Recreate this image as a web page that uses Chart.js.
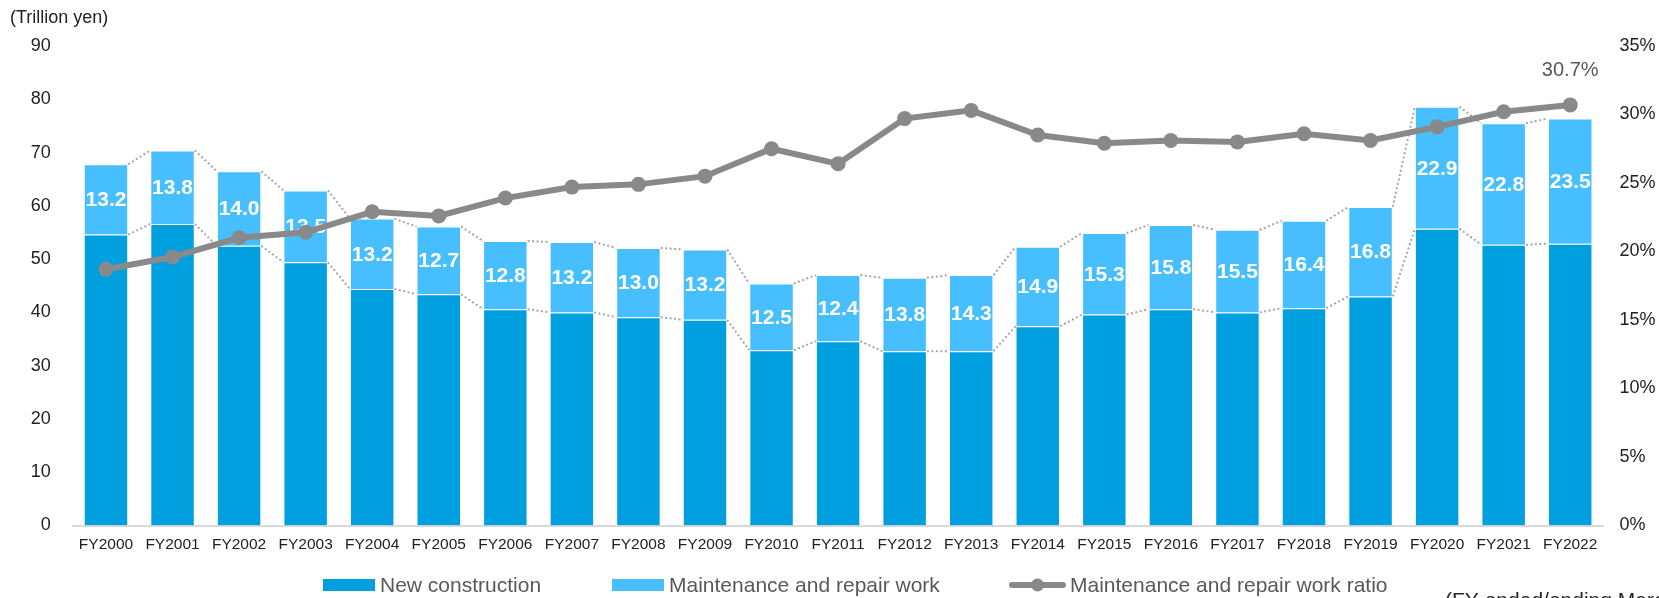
<!DOCTYPE html>
<html>
<head>
<meta charset="utf-8">
<script src="https://cdn.jsdelivr.net/npm/chart.js@4"></script>
<style>
  html, body { margin: 0; padding: 0; background: #fff; }
  #wrap { position: relative; width: 1659px; height: 598px; }
</style>
</head>
<body>
<div id="wrap"><canvas id="c"></canvas></div>
<script>
const categories = ['FY2000','FY2001','FY2002','FY2003','FY2004','FY2005','FY2006','FY2007','FY2008','FY2009','FY2010','FY2011','FY2012','FY2013','FY2014','FY2015','FY2016','FY2017','FY2018','FY2019','FY2020','FY2021','FY2022'];
const newConstruction = [54.6, 56.6, 52.5, 49.4, 44.4, 43.4, 40.6, 40.0, 39.1, 38.6, 32.9, 34.6, 32.7, 32.7, 37.4, 39.6, 40.6, 40.0, 40.8, 43.0, 55.7, 52.7, 52.9];
const maintenance = [13.2, 13.8, 14.0, 13.5, 13.2, 12.7, 12.8, 13.2, 13.0, 13.2, 12.5, 12.4, 13.8, 14.3, 14.9, 15.3, 15.8, 15.5, 16.4, 16.8, 22.9, 22.8, 23.5];
const ratio = [18.7, 19.6, 21.0, 21.4, 22.9, 22.6, 23.9, 24.7, 24.9, 25.5, 27.5, 26.4, 29.7, 30.3, 28.5, 27.9, 28.1, 28.0, 28.6, 28.1, 29.1, 30.2, 30.7];
const leftTicks = [0, 10, 20, 30, 40, 50, 60, 70, 80, 90];
const rightTicks = [0, 5, 10, 15, 20, 25, 30, 35];
const seriesNames = ['New construction', 'Maintenance and repair work', 'Maintenance and repair work ratio'];
const unitLabel = '(Trillion yen)';
const footnote = '(FY ended/ending March 31)';

const FONT = "'Liberation Sans', Arial, Helvetica, sans-serif";
const COL_NEW = '#009FE0';
const COL_MAINT = '#47BFFF';
const COL_LINE = '#898989';

const overlay = {
  id: 'overlay',
  afterDatasetDraw(chart, args) {
    if (args.index !== 1) return;
    const ctx = chart.ctx;
    ctx.save();
    ctx.strokeStyle = '#a6a6a6';
    ctx.lineWidth = 2;
    ctx.setLineDash([2, 2.5]);
    [0, 1].forEach(di => {
      const els = chart.getDatasetMeta(di).data;
      for (let i = 0; i < els.length - 1; i++) {
        const a = els[i], b = els[i + 1];
        ctx.beginPath();
        ctx.moveTo(a.x + a.width / 2, a.y);
        ctx.lineTo(b.x - b.width / 2, b.y);
        ctx.stroke();
      }
    });
    ctx.setLineDash([]);
    ctx.fillStyle = '#ffffff';
    ctx.font = 'bold 21px ' + FONT;
    ctx.textAlign = 'center';
    ctx.textBaseline = 'middle';
    chart.getDatasetMeta(1).data.forEach((el, i) => {
      const y = (el.y + el.base) / 2;
      ctx.fillText(maintenance[i].toFixed(1), el.x, y + 1);
    });
    ctx.restore();
  },
  afterDraw(chart) {
    const ctx = chart.ctx;
    ctx.save();
    // unit label
    ctx.fillStyle = '#222';
    ctx.font = '18px ' + FONT;
    ctx.textAlign = 'left';
    ctx.textBaseline = 'middle';
    ctx.fillText(unitLabel, 10, 18);
    // last ratio label
    const lm = chart.getDatasetMeta(2).data;
    const last = lm[lm.length - 1];
    ctx.fillStyle = '#595959';
    ctx.font = '20px ' + FONT;
    ctx.textAlign = 'center';
    ctx.fillText(ratio[ratio.length - 1].toFixed(1) + '%', last.x, last.y - 34);
    // legend
    const ly = 585;
    ctx.font = '21px ' + FONT;
    ctx.textAlign = 'left';
    ctx.textBaseline = 'middle';
    const items = [
      { x: 323, w: 52, type: 'box', color: COL_NEW, text: seriesNames[0] },
      { x: 612, w: 52, type: 'box', color: COL_MAINT, text: seriesNames[1] },
      { x: 1010, w: 55, type: 'line', color: COL_LINE, text: seriesNames[2] }
    ];
    items.forEach(it => {
      if (it.type === 'box') {
        ctx.fillStyle = it.color;
        ctx.fillRect(it.x, ly - 6, it.w, 12);
      } else {
        ctx.strokeStyle = it.color;
        ctx.lineWidth = 6;
        ctx.lineCap = 'round';
        ctx.beginPath();
        ctx.moveTo(it.x + 2, ly);
        ctx.lineTo(it.x + it.w - 2, ly);
        ctx.stroke();
        ctx.fillStyle = it.color;
        ctx.beginPath();
        ctx.arc(it.x + it.w / 2, ly, 6.5, 0, Math.PI * 2);
        ctx.fill();
      }
      ctx.fillStyle = '#595959';
      ctx.fillText(it.text, it.x + it.w + 5, ly + 1);
    });
    // footnote (cut by bottom edge)
    ctx.fillStyle = '#262626';
    ctx.textBaseline = 'alphabetic';
    ctx.fillText(footnote, 1445, 607);
    ctx.restore();
  }
};

new Chart(document.getElementById('c'), {
  type: 'bar',
  data: {
    labels: categories,
    datasets: [
      {
        label: seriesNames[0], data: newConstruction, backgroundColor: COL_NEW,
        borderColor: 'rgba(255,255,255,0.35)', borderWidth: 1,
        yAxisID: 'y', stack: 's', order: 1,
        barPercentage: 0.668, categoryPercentage: 1
      },
      {
        label: seriesNames[1], data: maintenance, backgroundColor: COL_MAINT,
        borderColor: 'rgba(255,255,255,0.35)', borderWidth: 1,
        yAxisID: 'y', stack: 's', order: 1,
        barPercentage: 0.668, categoryPercentage: 1
      },
      {
        type: 'line', label: seriesNames[2], data: ratio, yAxisID: 'y1', order: 0,
        borderColor: COL_LINE, backgroundColor: COL_LINE, borderWidth: 6,
        pointRadius: 7.5, pointBorderWidth: 0, pointBackgroundColor: COL_LINE,
        pointHoverRadius: 7.5, tension: 0
      }
    ]
  },
  options: {
    responsive: true,
    maintainAspectRatio: false,
    animation: false,
    layout: { padding: { top: 46, left: 0, right: 0, bottom: 0 } },
    plugins: { legend: { display: false }, tooltip: { enabled: false }, title: { display: false } },
    scales: {
      x: {
        stacked: true,
        grid: { display: false, drawTicks: false },
        border: { display: true, color: '#d9d9d9', width: 2 },
        ticks: { color: '#222', font: { family: FONT, size: 15.5 }, padding: 10, maxRotation: 0, autoSkip: false },
        afterFit(s) { s.height = 72.5; }
      },
      y: {
        stacked: true, position: 'left', min: 0, max: 90,
        afterBuildTicks(s) { s.ticks = leftTicks.map(v => ({ value: v })); },
        grid: { display: false, drawTicks: false },
        border: { display: false },
        ticks: { color: '#222', font: { family: FONT, size: 18 }, padding: 22 },
        afterFit(s) { s.width = 72.7; }
      },
      y1: {
        position: 'right', min: 0, max: 35,
        afterBuildTicks(s) { s.ticks = rightTicks.map(v => ({ value: v })); },
        grid: { display: false, drawTicks: false },
        border: { display: false },
        ticks: { color: '#222', font: { family: FONT, size: 18 }, padding: 16, callback: v => v + '%' },
        afterFit(s) { s.width = 55.5; }
      }
    }
  },
  plugins: [overlay]
});
</script>
</body>
</html>
